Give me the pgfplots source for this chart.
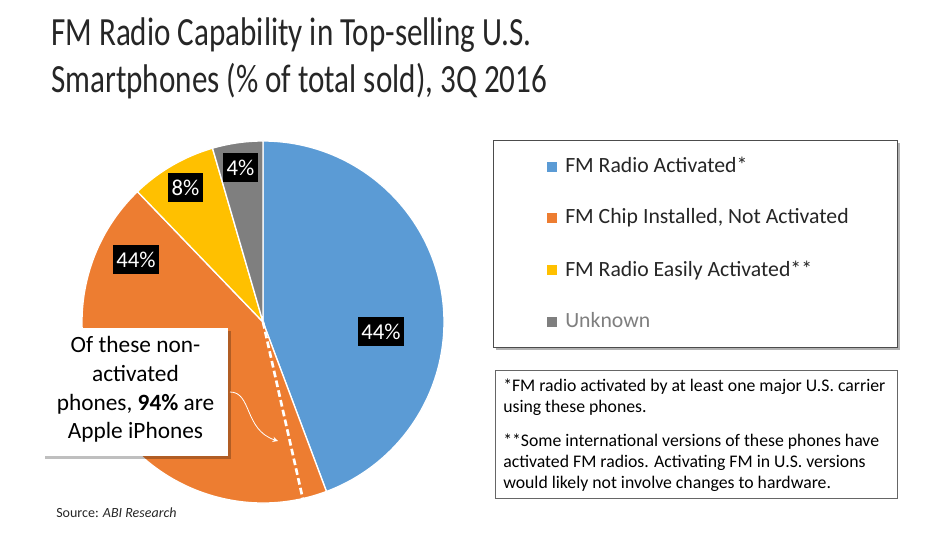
\documentclass[border=0pt]{standalone}
\usepackage{pgfplots}
\pgfplotsset{compat=1.18}
\usepackage{fontspec}
\setmainfont{Carlito}
\usetikzlibrary{arrows.meta,shadows}
\definecolor{cBlue}{HTML}{5B9BD5}
\definecolor{cOrange}{HTML}{ED7D31}
\definecolor{cYellow}{HTML}{FFC000}
\definecolor{cGrey}{HTML}{7F7F7F}
\definecolor{cTitle}{HTML}{262626}
\definecolor{cText}{HTML}{262626}
% slice values (percent of total sold), clockwise from 12 o'clock
\def\valBlue{44.3}
\def\valOrange{43.5}
\def\valYellow{7.7}
\def\valGrey{4.5}
\def\valNonApple{5}% share of the orange slice that is not Apple
\begin{document}
\begin{tikzpicture}
\pgfmathsetmacro\aA{90}
\pgfmathsetmacro\aB{\aA-3.6*\valBlue}
\pgfmathsetmacro\aC{\aB-3.6*\valOrange}
\pgfmathsetmacro\aD{\aC-3.6*\valYellow}
\pgfmathsetmacro\aE{\aD-3.6*\valGrey}
\pgfmathsetmacro\aDash{\aB-0.036*\valNonApple*\valOrange}
\def\R{135.75pt}
\begin{axis}[at={(0,0)}, anchor=south west, scale only axis,
  width=712.5pt, height=400.5pt, xmin=0, xmax=950, ymin=0, ymax=534,
  enlargelimits=false, hide axis, clip=false]
\path (axis cs:0,0) rectangle (axis cs:950,534);
% title
\node[anchor=base west, inner sep=0, text=cTitle, font=\fontsize{30}{36}\selectfont] at (axis cs:51,488) {\scalebox{0.778}[1]{FM Radio Capability in Top-selling U.S.}};
\node[anchor=base west, inner sep=0, text=cTitle, font=\fontsize{30}{36}\selectfont] at (axis cs:51,441) {\scalebox{0.778}[1]{Smartphones (\% of total sold), 3Q 2016}};
% pie
\filldraw[fill=cBlue, draw=white, line width=1pt] (axis cs:263,212) -- ++(\aA:\R) arc[start angle=\aA, end angle=\aB, radius=\R] -- cycle;
\filldraw[fill=cOrange, draw=white, line width=1pt] (axis cs:263,212) -- ++(\aB:\R) arc[start angle=\aB, end angle=\aC, radius=\R] -- cycle;
\filldraw[fill=cYellow, draw=white, line width=1pt] (axis cs:263,212) -- ++(\aC:\R) arc[start angle=\aC, end angle=\aD, radius=\R] -- cycle;
\filldraw[fill=cGrey, draw=white, line width=1pt] (axis cs:263,212) -- ++(\aD:\R) arc[start angle=\aD, end angle=\aE, radius=\R] -- cycle;
\draw[white, line width=2pt, dash pattern=on 5pt off 2.5pt] (axis cs:263,212) -- ++(\aDash:\R);
% data labels
\tikzset{lab/.style={fill=black, text=white, inner xsep=2.5pt, inner ysep=5pt, font=\fontsize{17}{19}\selectfont}}
\node[lab] at (axis cs:381,202.5) {44\%};
\node[lab] at (axis cs:136,274) {44\%};
\node[lab] at (axis cs:185.5,346) {8\%};
\node[lab] at (axis cs:240.5,366) {4\%};
% callout
\fill[black, opacity=0.25] (axis cs:45,75) rectangle (axis cs:231,203);
\fill[white] (axis cs:43,78) rectangle (axis cs:228,206);
\tikzset{call/.style={anchor=base, inner sep=0, text=black, font=\fontsize{17.5}{20}\selectfont}}
\node[call] at (axis cs:135.5,181) {Of these non-};
\node[call] at (axis cs:135.5,152) {activated};
\node[call] at (axis cs:135.5,123) {phones, \textbf{94\%} are};
\node[call] at (axis cs:135.5,95) {Apple iPhones};
\draw[white, line width=0.6pt, -{Stealth[length=4pt,width=4pt]}] (axis cs:230,142) .. controls (axis cs:252,142) and (axis cs:244,104) .. (axis cs:278,93);
% source
\node[anchor=base west, inner sep=0, font=\fontsize{10.5}{12}\selectfont, text=cText] at (axis cs:56,16) {Source: \textit{ABI Research}};
% legend box
\fill[black, opacity=0.3] (axis cs:496,184) rectangle (axis cs:900,391);
\filldraw[fill=white, draw=black!70, line width=0.6pt] (axis cs:493,187) rectangle (axis cs:897,394);
\fill[cBlue] (axis cs:547,362) rectangle (axis cs:557,372);
\fill[cOrange] (axis cs:547,311) rectangle (axis cs:557,321);
\fill[cYellow] (axis cs:547,259) rectangle (axis cs:557,269);
\fill[cGrey] (axis cs:547,207) rectangle (axis cs:557,217);
\tikzset{leg/.style={anchor=base west, inner sep=0, font=\fontsize{16.3}{19}\selectfont}}
\node[leg, text=cText] at (axis cs:565,361) {FM Radio Activated*};
\node[leg, text=cText] at (axis cs:565,310) {FM Chip Installed, Not Activated};
\node[leg, text=cText] at (axis cs:565,257) {FM Radio Easily Activated**};
\node[leg, text=cGrey] at (axis cs:565,206) {Unknown};
% footnote box
\draw[black!60, line width=0.6pt] (axis cs:495,36) rectangle (axis cs:897,164);
\tikzset{fn/.style={anchor=base west, inner sep=0, text=black, font=\fontsize{13.3}{15}\selectfont}}
\node[fn] at (axis cs:503,142) {*FM radio activated by at least one major U.S. carrier};
\node[fn] at (axis cs:503,121) {using these phones.};
\node[fn] at (axis cs:503,87) {**Some international versions of these phones have};
\node[fn] at (axis cs:503,66) {activated FM radios. Activating FM in U.S. versions};
\node[fn] at (axis cs:503,45) {would likely not involve changes to hardware.};
\end{axis}
\end{tikzpicture}
\end{document}
